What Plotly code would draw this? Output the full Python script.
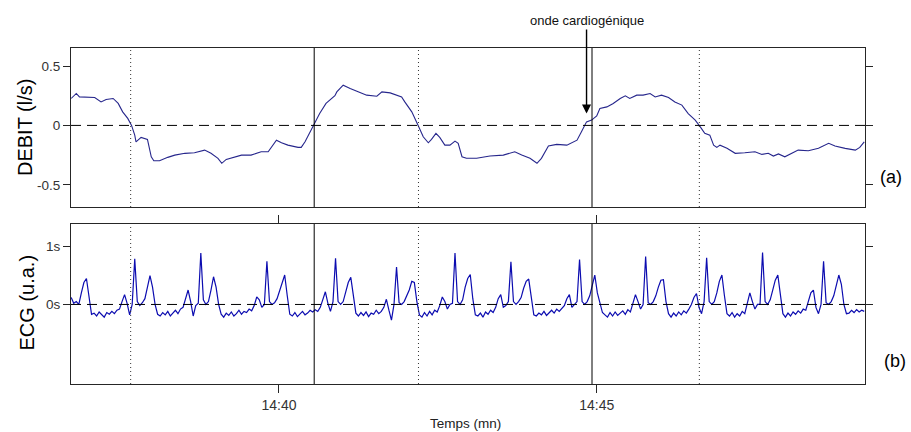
import plotly.graph_objects as go

# ---- Flow signal (DEBIT, l/s); time in minutes after 14:00 ----
DEBIT_T = [
    36.73, 36.81, 36.86, 36.99, 37.10, 37.20, 37.28, 37.39, 37.47, 37.54,
    37.62, 37.68, 37.73, 37.75, 37.83, 37.93, 37.99, 38.03, 38.12, 38.25,
    38.36, 38.52, 38.67, 38.83, 38.93, 39.04, 39.10, 39.17, 39.30, 39.41,
    39.56, 39.72, 39.83, 39.88, 39.96, 40.04, 40.14, 40.30, 40.35, 40.41,
    40.48, 40.55, 40.64, 40.74, 40.88, 40.91, 41.01, 41.12, 41.22, 41.38,
    41.54, 41.62, 41.75, 41.85, 41.93, 41.98, 42.09, 42.19, 42.27, 42.35,
    42.40, 42.47, 42.53, 42.61, 42.69, 42.77, 42.82, 42.88, 42.95, 43.11,
    43.32, 43.53, 43.71, 43.82, 43.95, 44.06, 44.13, 44.24, 44.37, 44.53,
    44.69, 44.76, 44.84, 44.92, 45.00, 45.05, 45.16, 45.26, 45.37, 45.45,
    45.52, 45.63, 45.73, 45.84, 45.92, 46.02, 46.13, 46.23, 46.34, 46.44,
    46.55, 46.63, 46.70, 46.78, 46.84, 46.89, 46.94, 47.05, 47.18, 47.33,
    47.49, 47.60, 47.70, 47.78, 47.86, 47.96, 48.04, 48.17, 48.33, 48.49,
    48.65, 48.75, 48.91, 49.07, 49.14, 49.21,
]
DEBIT_V = [
    0.227, 0.269, 0.240, 0.240, 0.235, 0.198, 0.218, 0.227, 0.185, 0.114,
    0.059, 0.000, -0.082, -0.138, -0.101, -0.118, -0.264, -0.297, -0.297, -0.269,
    -0.250, -0.235, -0.230, -0.208, -0.235, -0.277, -0.319, -0.286, -0.264, -0.250,
    -0.250, -0.222, -0.222, -0.185, -0.124, -0.146, -0.166, -0.185, -0.185, -0.138,
    -0.067, 0.000, 0.100, 0.185, 0.250, 0.282, 0.339, 0.311, 0.291, 0.255,
    0.246, 0.282, 0.274, 0.255, 0.240, 0.198, 0.114, 0.000, -0.096, -0.146,
    -0.118, -0.067, -0.101, -0.166, -0.166, -0.132, -0.151, -0.264, -0.277, -0.277,
    -0.258, -0.250, -0.222, -0.250, -0.277, -0.319, -0.277, -0.174, -0.160, -0.166,
    -0.124, -0.054, 0.030, 0.045, 0.080, 0.143, 0.156, 0.185, 0.227, 0.249,
    0.227, 0.255, 0.255, 0.269, 0.240, 0.255, 0.235, 0.198, 0.171, 0.100,
    0.045, -0.012, -0.067, -0.082, -0.166, -0.185, -0.166, -0.193, -0.235, -0.230,
    -0.222, -0.244, -0.235, -0.258, -0.240, -0.264, -0.240, -0.208, -0.213, -0.193,
    -0.151, -0.174, -0.193, -0.208, -0.185, -0.138,
]

# ---- ECG (u.a.), uniformly sampled ----
ECG_T0 = 36.73      # first sample, minutes after 14:00
ECG_DT = 0.04       # sampling step, minutes
ECG_V = [
    0.12, 0.02, 0.05, 0.0, 0.2, 0.38, 0.45, 0.1, -0.17,
    -0.15, -0.2, -0.13, -0.18, -0.22, -0.14, -0.17, -0.12, -0.16, -0.1,
    -0.08, 0.05, 0.17, 0.02, -0.18, 0.0, 0.79, 0.05, -0.02, 0.03, 0.1, 0.3, 0.5, 0.3, 0.0, -0.17,
    -0.2, -0.14, -0.18, -0.12, -0.2, -0.15, -0.1, -0.16, -0.08,
    -0.05, 0.12, 0.25, 0.05, -0.2, -0.02, 0.02, 0.89, 0.08, 0.0, 0.05, 0.25, 0.48, 0.3, 0.0, -0.17,
    -0.22, -0.15, -0.19, -0.13, -0.2, -0.16, -0.1, -0.17, -0.12, -0.14, -0.08, -0.11,
    -0.02, 0.13, 0.08, -0.05, 0.0, 0.75, 0.05, 0.0, 0.03, 0.1, 0.25, 0.4, 0.51, 0.15, -0.17,
    -0.2, -0.14, -0.21, -0.16, -0.12, -0.18, -0.15, -0.1, -0.13, -0.09, -0.12,
    -0.05, 0.1, 0.22, 0.02, -0.12, 0.05, 0.8, 0.05, 0.0, 0.05, 0.2, 0.38, 0.47, 0.15, -0.15,
    -0.2, -0.14, -0.19, -0.13, -0.21, -0.15, -0.17, -0.1, -0.16, -0.12,
    -0.05, 0.09, -0.1, -0.27, 0.0, 0.65, 0.03, 0.0, 0.05, 0.15, 0.25, 0.4, 0.38, 0.05, -0.18,
    -0.22, -0.14, -0.2, -0.12, -0.18, -0.1, -0.13,
    -0.02, 0.13, 0.05, -0.08, 0.0, 0.02, 0.89, 0.05, 0.0, 0.08, 0.3, 0.45, 0.52, 0.1, -0.18,
    -0.2, -0.15, -0.22, -0.13, -0.17, -0.1, -0.14,
    -0.05, 0.1, 0.17, -0.05, -0.02, 0.05, 0.74, 0.05, 0.0, 0.05, 0.12, 0.28, 0.4, 0.44, 0.1, -0.18,
    -0.2, -0.15, -0.18, -0.12, -0.19, -0.14, -0.1, -0.15, -0.08, -0.12, -0.06,
    -0.02, 0.1, 0.17, -0.05, 0.0, 0.05, 0.78, 0.05, 0.0, 0.05, 0.15, 0.35, 0.51, 0.2, 0.0, -0.14,
    -0.18, -0.22, -0.14, -0.2, -0.13, -0.19, -0.15, -0.11, -0.17, -0.09, -0.13,
    0.0, 0.17, 0.05, -0.08, 0.0, 0.83, 0.03, 0.0, 0.05, 0.15, 0.3, 0.42, 0.43, 0.05, -0.16,
    -0.22, -0.15, -0.2, -0.13, -0.18, -0.11, -0.15, -0.08,
    0.0, 0.12, 0.19, -0.05, -0.16, 0.05, 0.81, 0.05, 0.0, 0.05, 0.2, 0.4, 0.51, 0.15, -0.16,
    -0.2, -0.14, -0.22, -0.16, -0.2, -0.12, -0.16,
    0.0, 0.2, 0.05, -0.08, 0.0, 0.0, 0.9, 0.05, 0.0, 0.08, 0.25, 0.42, 0.51, 0.15, -0.16,
    -0.22, -0.15, -0.2, -0.13, -0.17, -0.11, -0.15, -0.08, -0.1,
    0.05, 0.2, 0.25, -0.05, -0.16, 0.0, 0.75, 0.03, 0.0, 0.05, 0.15, 0.35, 0.51, 0.35, 0.0, -0.16,
    -0.15, -0.1, -0.14, -0.09, -0.13, -0.1, -0.12,
]
ECG_T = [ECG_T0 + i * ECG_DT for i in range(len(ECG_V))]

# Event markers (minutes after 14:00)
SOLID_MARKS = [40.554, 44.926]
DOTTED_MARKS = [37.666, 42.195, 46.615]

X_TICKS = [40, 45]
X_TICK_TEXT = ["14:40", "14:45"]
DEBIT_TICKS = [-0.5, 0, 0.5]
DEBIT_TICK_TEXT = ["-0.5", "0", "0.5"]
ECG_TICKS = [0, 1]
ECG_TICK_TEXT = ["0s", "1s"]

ARROW_T, ARROW_V = 44.84, 0.10

W, H = 911, 432
X_RANGE = [36.727, 49.222]
FONT = "Arial, 'Liberation Sans', sans-serif"
AXIS_COLOR = "#262626"

fig = go.Figure()
fig.add_trace(go.Scatter(x=DEBIT_T, y=DEBIT_V, mode="lines",
                         line=dict(color="#26268c", width=1.1),
                         xaxis="x", yaxis="y", hoverinfo="skip"))
fig.add_trace(go.Scatter(x=ECG_T, y=ECG_V, mode="lines",
                         line=dict(color="#0c0cb0", width=1.2),
                         xaxis="x2", yaxis="y2", hoverinfo="skip"))

x_dom = [71 / W, 865 / W]
common_axis = dict(showline=True, linecolor=AXIS_COLOR, linewidth=1,
                   showgrid=False, zeroline=False,
                   tickcolor=AXIS_COLOR, tickfont=dict(family=FONT, size=13.5, color="#333"))

shapes = []
for xr, yr in (("x", "y"), ("x2", "y2")):
    shapes.append(dict(type="line", xref=f"{xr} domain", x0=0, x1=1, yref=yr, y0=0, y1=0,
                       line=dict(color="black", width=1, dash="10px,6px")))
    for t in SOLID_MARKS:
        shapes.append(dict(type="line", xref=xr, x0=t, x1=t, yref=f"{yr} domain", y0=0, y1=1,
                           line=dict(color="black", width=1)))
    for t in DOTTED_MARKS:
        shapes.append(dict(type="line", xref=xr, x0=t, x1=t, yref=f"{yr} domain", y0=0, y1=1,
                           line=dict(color="#333", width=1, dash="1px,3px")))


def paper_label(text, px, py, size, angle=0, color="black"):
    return dict(text=text, x=px / W, y=1 - py / H, xref="paper", yref="paper",
                xanchor="center", yanchor="middle", textangle=angle, showarrow=False,
                font=dict(family=FONT, size=size, color=color))


annotations = [
    paper_label("DEBIT (l/s)", 25, 128, 20, angle=-90),
    paper_label("ECG (u.a.)", 26, 302.5, 20, angle=-90),
    paper_label("(a)", 891, 177, 18),
    paper_label("(b)", 895, 361, 18),
    paper_label("Temps (mn)", 466, 423, 13.5, color="#222"),
    dict(text="onde cardiogénique", x=ARROW_T, y=ARROW_V, xref="x", yref="y",
         showarrow=True, ax=0, ay=-93, arrowhead=2, arrowsize=1.3, arrowwidth=1.4,
         arrowcolor="black", font=dict(family=FONT, size=13, color="#111")),
]

fig.update_layout(
    width=W, height=H,
    margin=dict(l=0, r=0, t=0, b=0),
    paper_bgcolor="white", plot_bgcolor="white",
    showlegend=False,
    xaxis=dict(domain=x_dom, range=X_RANGE, anchor="y", mirror=True,
               ticks="", showticklabels=False, **common_axis),
    yaxis=dict(domain=[1 - 207 / H, 1 - 48 / H], range=[-0.687, 0.652], anchor="x",
               tickvals=DEBIT_TICKS, ticktext=DEBIT_TICK_TEXT,
               ticks="outside", ticklen=7, mirror="ticks", **common_axis),
    xaxis2=dict(domain=x_dom, range=X_RANGE, anchor="y2",
                tickvals=X_TICKS, ticktext=X_TICK_TEXT,
                ticks="outside", ticklen=8, mirror="ticks", **common_axis),
    yaxis2=dict(domain=[1 - 384 / H, 1 - 224 / H], range=[-1.378, 1.394], anchor="x2",
                tickvals=ECG_TICKS, ticktext=ECG_TICK_TEXT,
                ticks="outside", ticklen=7, mirror="ticks", **common_axis),
    shapes=shapes,
    annotations=annotations,
)
fig.update_xaxes(tickfont=dict(size=14))

fig.write_html("out.html")
